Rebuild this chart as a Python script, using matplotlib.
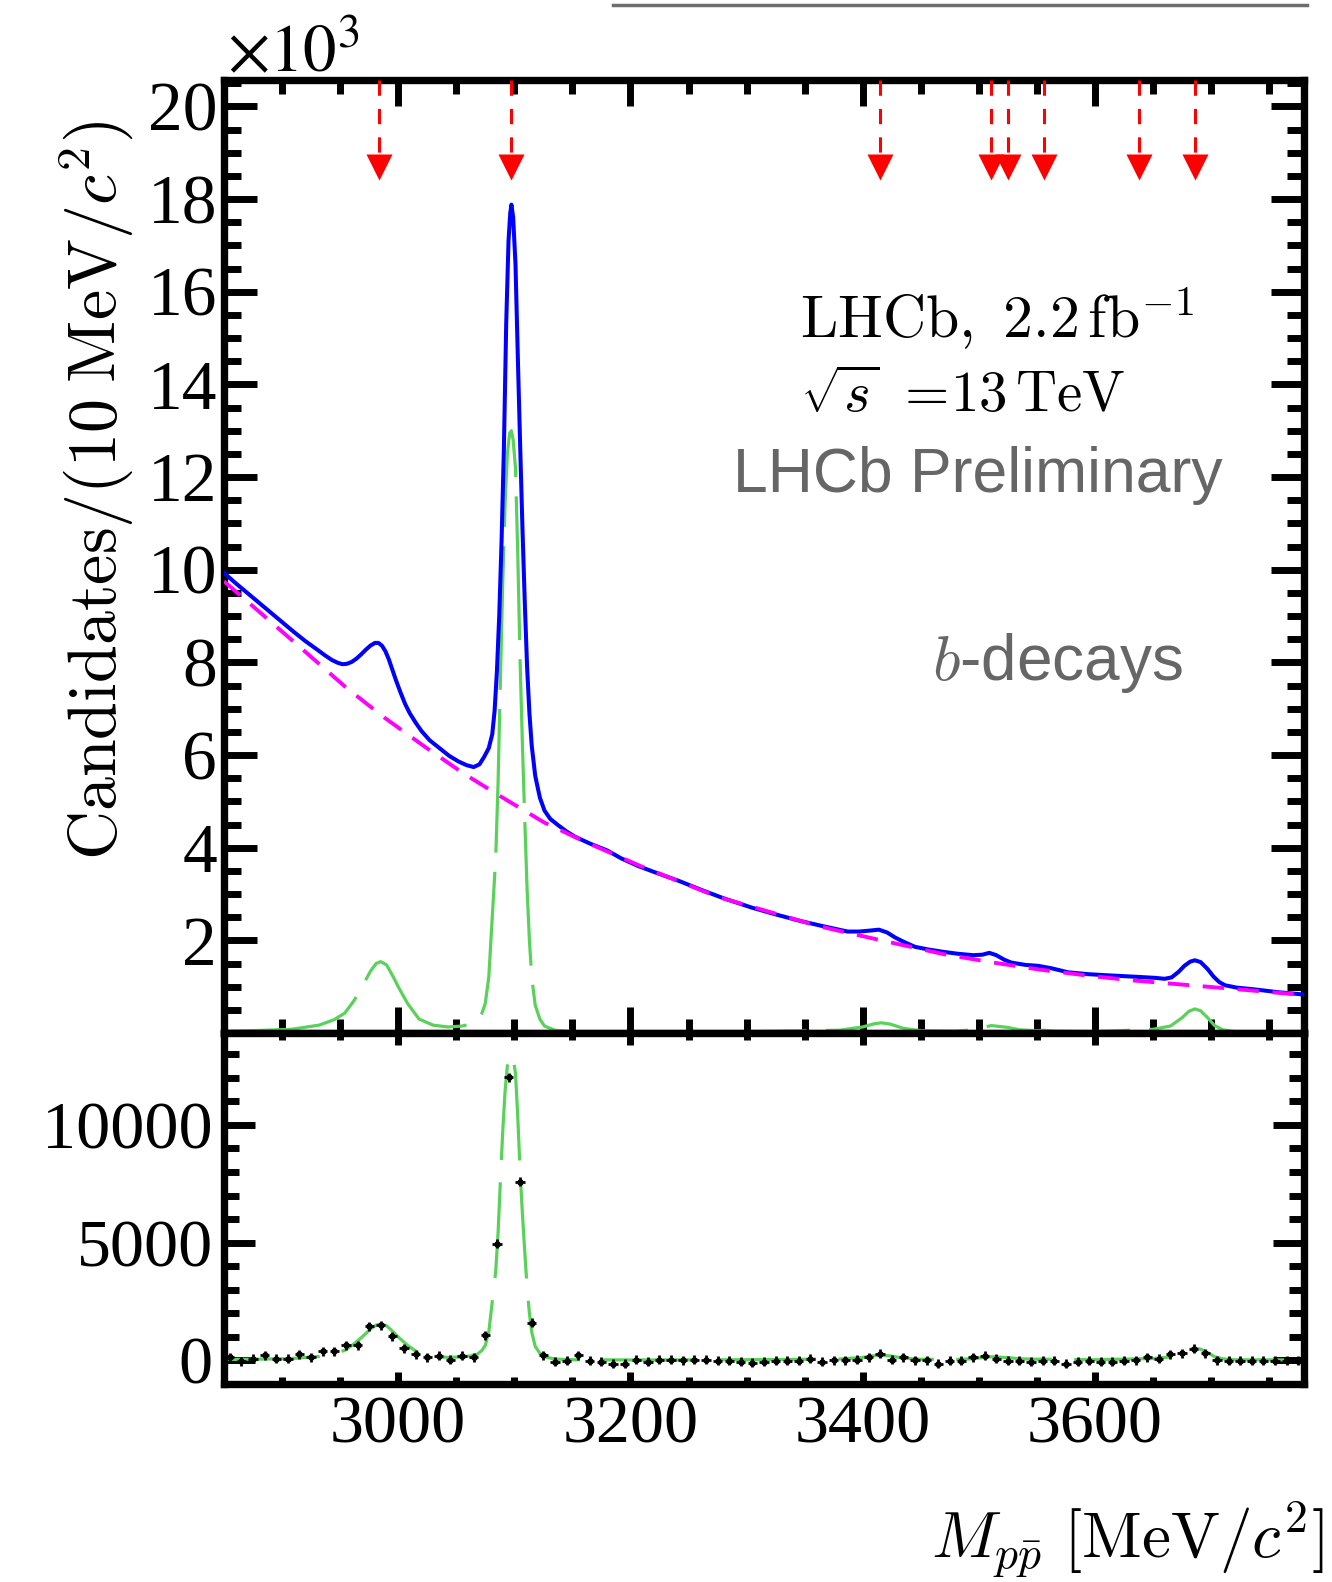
import numpy as np
import matplotlib.pyplot as plt
from matplotlib.ticker import MultipleLocator
from matplotlib.lines import Line2D

# total fit (blue), mass in MeV/c^2, candidates in units of 10^3
total_mass = [2850, 2860, 2870, 2880, 2890, 2900, 2910, 2920, 2930, 2937,
              2943, 2948, 2952, 2956, 2960, 2964, 2968, 2972, 2976, 2980,
              2983, 2986, 2989, 2992, 2995, 2998, 3002, 3006, 3010, 3015,
              3020, 3027, 3036, 3044, 3052, 3059, 3065, 3070, 3074, 3078,
              3081, 3083, 3085, 3087, 3089, 3091, 3093, 3095, 3096.5, 3097.5,
              3099, 3101, 3103, 3105, 3107, 3109, 3111, 3113, 3115, 3118,
              3122, 3126, 3131, 3138, 3145, 3152, 3165, 3180, 3192, 3207,
              3222, 3242, 3263, 3280, 3304, 3325, 3346, 3365, 3387, 3397,
              3406, 3414, 3421, 3428, 3436, 3445, 3457, 3470, 3482, 3495,
              3503, 3509, 3515, 3522, 3528, 3540, 3551, 3562, 3577, 3594,
              3615, 3638, 3652, 3660, 3666, 3672, 3677, 3682, 3686, 3691,
              3697, 3702, 3707, 3712, 3722, 3738, 3758, 3780]
total_k = [9.93, 9.71, 9.50, 9.29, 9.08, 8.87, 8.66, 8.46, 8.28, 8.15,
           8.05, 7.99, 7.96, 7.97, 8.01, 8.08, 8.17, 8.27, 8.36, 8.42,
           8.42, 8.36, 8.24, 8.06, 7.84, 7.62, 7.35, 7.10, 6.90, 6.70,
           6.52, 6.32, 6.14, 5.98, 5.86, 5.78, 5.74, 5.80, 5.96, 6.15,
           6.45, 6.95, 7.80, 9.00, 10.6, 12.6, 15.3, 17.1, 17.7, 17.88,
           17.6, 16.6, 14.6, 12.7, 10.9, 9.3, 7.9, 6.9, 6.2, 5.55,
           5.08, 4.80, 4.62, 4.48, 4.35, 4.24, 4.09, 3.94, 3.77, 3.60,
           3.46, 3.28, 3.07, 2.91, 2.71, 2.56, 2.42, 2.31, 2.19, 2.19,
           2.21, 2.23, 2.17, 2.06, 1.96, 1.86, 1.80, 1.75, 1.71, 1.68,
           1.69, 1.73, 1.68, 1.58, 1.52, 1.47, 1.45, 1.40, 1.31, 1.27,
           1.24, 1.21, 1.19, 1.17, 1.20, 1.32, 1.45, 1.54, 1.57, 1.53,
           1.38, 1.22, 1.10, 1.03, 0.98, 0.94, 0.88, 0.83]

# combinatorial background (magenta dashed), 10^3
bkg_mass = [2850, 2886, 2919, 2955, 2988, 3024, 3057, 3090, 3126, 3159,
            3209, 3275, 3363, 3416, 3470, 3510, 3552, 3600, 3635, 3673,
            3720, 3780]
bkg_k = [9.75, 8.97, 8.25, 7.46, 6.81, 6.16, 5.59, 5.08, 4.54, 4.15,
         3.60, 2.94, 2.30, 2.00, 1.70, 1.53, 1.37, 1.22, 1.13, 1.05,
         0.95, 0.82]

# signal components (green), candidates / 10 MeV
sig_mass = [2850, 2880, 2908, 2932, 2945, 2954, 2962, 2969, 2976, 2981,
            2985, 2990, 2996, 3000, 3008, 3018, 3030, 3043, 3055, 3062,
            3068, 3072, 3075, 3078, 3081, 3084, 3086, 3088, 3090, 3092,
            3094, 3096, 3097.5, 3099, 3101, 3103, 3105, 3107, 3109, 3111,
            3113, 3115, 3118, 3122, 3126, 3135, 3150, 3200, 3300, 3380,
            3400, 3410, 3416, 3424, 3435, 3450, 3480, 3495, 3505, 3511,
            3518, 3525, 3535, 3550, 3556, 3565, 3600, 3630, 3638, 3650,
            3665, 3675, 3681, 3686, 3691, 3697, 3703, 3710, 3720, 3780]
sig_counts = [40, 55, 80, 170, 290, 430, 700, 1000, 1330, 1500,
              1540, 1470, 1200, 1000, 640, 300, 170, 130, 150, 190,
              260, 420, 640, 1200, 2500, 3800, 5400, 7600, 9700, 11400,
              12500, 12950, 13000, 12800, 12200, 10300, 8000, 6200, 4600, 3100,
              2000, 1200, 600, 300, 150, 60, 30, 20, 30, 60,
              130, 200, 220, 190, 100, 50, 40, 70, 130, 160,
              140, 120, 70, 50, 60, 40, 30, 60, 70, 80,
              150, 330, 470, 520, 480, 330, 160, 70, 30, 20]

# background-subtracted data, 10 MeV bins from 2850 to 3780
bin_lo, bin_hi, bin_w = 2850, 3780, 10
resid_counts = [140, -30, 70, 210, 70, 70, 260, 140, 380, 380,
                640, 640, 1450, 1500, 1030, 510, 260, 130, 190, 40,
                190, 130, 1070, 4950, 12030, 7590, 1600, 210, -60, -20,
                210, -20, -60, -130, -130, 40, -60, 40, 40, 0,
                40, 40, -20, -20, -60, -90, -60, -20, -20, -20,
                70, -60, 0, 0, 40, 130, 290, 40, 140, 0,
                0, -130, -20, -20, 130, 190, 70, -20, -20, -60,
                -20, -20, -130, -60, -20, -60, -60, -20, 0, 140,
                70, 260, 310, 500, 310, 0, -20, -20, -20, -20,
                -20, -20, -20]
resid_err = 190

# charmonium states marked with arrows
state_mass = [2983.9, 3096.9, 3414.7, 3510.7, 3525.4, 3556.2, 3637.5, 3686.1]

W, H = 1332, 1582
plt.rcParams['font.family'] = ['Liberation Serif', 'DejaVu Serif']

fig = plt.figure(figsize=(W / 100, H / 100), dpi=100)
L, R = 224, 1304
ax = fig.add_axes([L / W, 1 - 1033 / H, (R - L) / W, (1033 - 80) / H])
ax2 = fig.add_axes([L / W, 1 - 1384 / H, (R - L) / W, (1384 - 1033) / H])

green = '#5ad25a'
sig_k = np.array(sig_counts) / 1000.0

# upper panel
ax.plot(sig_mass, sig_k, color=green, lw=2.3, dashes=(45, 6), zorder=2)
ax.plot(total_mass, total_k, color='#0000ff', lw=2.9, zorder=3)
ax.plot(bkg_mass, bkg_k, color='#ff00ff', lw=2.8, dashes=(5.5, 3.5), zorder=4)

arrow_top, arrow_base, arrow_head = 20.57, 19.0, 18.70
for m in state_mass:
    ax.plot([m, m], [arrow_top, arrow_base], color='#ff0000', lw=2.2,
            dashes=(5, 4.3), zorder=5)
    ax.plot([m], [arrow_head], marker='v', ms=18.5, color='#ff0000',
            mec='none', zorder=5)

ax.set_xlim(bin_lo, bin_hi)
ax.set_ylim(0, 20.57)
ax.set_yticks(range(2, 21, 2))
ax.yaxis.set_minor_locator(MultipleLocator(0.5))
ax.set_xticks([3000, 3200, 3400, 3600])
ax.xaxis.set_minor_locator(MultipleLocator(50))
ax.tick_params(labelbottom=False)
ax.tick_params(axis='y', which='major', length=24, labelsize=50, pad=5)
ax.tick_params(axis='y', which='minor', length=12.5)
ax.tick_params(axis='x', which='major', length=18.5)
ax.tick_params(axis='x', which='minor', length=9.8)

# lower panel
centers = np.arange(bin_lo + bin_w / 2, bin_hi, bin_w)
ax2.plot(sig_mass, sig_counts, color=green, lw=2.3, dashes=(30, 7), zorder=2)
ax2.errorbar(centers, resid_counts, yerr=resid_err, xerr=4, fmt='s',
             ms=3, color='k', elinewidth=2.0, capsize=0, zorder=3)
ax2.set_xlim(bin_lo, bin_hi)
ax2.set_ylim(-1000, 13900)
ax2.set_yticks([0, 5000, 10000])
ax2.yaxis.set_minor_locator(MultipleLocator(1000))
ax2.set_xticks([3000, 3200, 3400, 3600])
ax2.xaxis.set_minor_locator(MultipleLocator(50))
ax2.tick_params(axis='y', which='major', length=22, labelsize=49, pad=8)
ax2.tick_params(axis='y', which='minor', length=11)
ax2.tick_params(axis='x', which='major', length=8.5, labelsize=49, pad=8)
ax2.tick_params(axis='x', which='minor', length=5)

for a in (ax, ax2):
    a.tick_params(which='both', direction='in', top=True, right=True,
                  width=5, color='k')
    for s in a.spines.values():
        s.set_linewidth(5.3)

# texts
cm = dict(math_fontfamily='cm')
fig.text(96 / W, 1 - 490 / H,
         r'$\mathrm{Candidates/(10\;MeV/}c^{2}\mathrm{)}$',
         rotation=90, ha='center', va='center', fontsize=49, **cm)
fig.text(1324 / W, 1 - 1557 / H,
         r'$M_{p\bar{p}}\ [\mathrm{MeV}/c^{2}]$',
         ha='right', va='baseline', fontsize=47, **cm)
fig.text(227 / W, 1 - 72 / H, r'$\times10^{3}$', ha='left', va='baseline',
         fontsize=48, math_fontfamily='stix')
fig.text(800 / W, 1 - 338 / H, r'$\mathrm{LHCb,}\ 2.2\,\mathrm{fb}^{-1}$',
         ha='left', va='baseline', fontsize=43, **cm)
fig.text(800 / W, 1 - 412 / H, r'$\sqrt{s}\ \mathrm{=\!13\,TeV}$',
         ha='left', va='baseline', fontsize=41, **cm)
fig.text(1223 / W, 1 - 492 / H, 'LHCb Preliminary', ha='right',
         va='baseline', fontsize=45, color='#666666',
         family='Liberation Sans')
fig.text(1183 / W, 1 - 680 / H, r'$b$-decays', ha='right', va='baseline',
         fontsize=46, color='#666666', family='Liberation Sans', **cm)

fig.add_artist(Line2D([613 / W, 1307 / W], [1 - 5 / H, 1 - 5 / H],
                      color='#6e6e6e', lw=2.5))

fig.savefig('out.png', dpi=100)
